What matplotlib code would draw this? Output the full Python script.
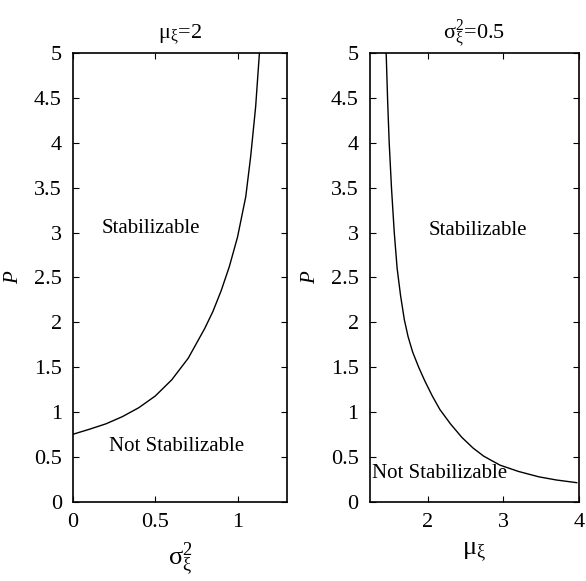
import matplotlib
matplotlib.use('Agg')
import matplotlib.pyplot as plt
import numpy as np

plt.rcParams.update({'font.family': 'Liberation Serif', 'mathtext.fontset': 'stix',
                     'font.size': 16, 'xtick.direction': 'in', 'ytick.direction': 'in',
                     'xtick.top': True, 'ytick.right': True})

# left panel: mu_xi = 2, boundary P vs sigma^2
sig2 = [0.0, 0.1, 0.2, 0.3, 0.4, 0.5, 0.6, 0.7, 0.8, 0.85, 0.9, 0.95, 1.0, 1.05,
        1.08, 1.11, 1.133]
p_left = [0.754, 0.81, 0.87, 0.95, 1.05, 1.18, 1.36, 1.60, 1.93, 2.12, 2.35, 2.62,
          2.95, 3.40, 3.85, 4.40, 5.0]

# right panel: sigma^2 = 0.5, boundary P vs mu
mu = [1.45, 1.47, 1.49, 1.52, 1.557, 1.595, 1.64, 1.69, 1.74, 1.80, 1.88, 1.96,
      2.06, 2.16, 2.3, 2.45, 2.6, 2.74, 2.956, 3.2, 3.47, 3.7, 3.97]
p_right = [5.0, 4.45, 4.0, 3.5, 3.0, 2.6, 2.30, 2.03, 1.84, 1.67, 1.5, 1.35,
           1.18, 1.03, 0.87, 0.72, 0.60, 0.51, 0.41, 0.34, 0.28, 0.245, 0.215]

yticks = np.arange(0, 5.01, 0.5)
ylabels = ['0', '0.5', '1', '1.5', '2', '2.5', '3', '3.5', '4', '4.5', '5']

fig = plt.figure(figsize=(5.86, 5.81), dpi=100)
ax1 = fig.add_axes([0.1246, 0.136, 0.365, 0.773])
ax2 = fig.add_axes([0.631, 0.136, 0.357, 0.773])

ax1.plot(sig2, p_left, color='black', lw=1.0)
ax1.set_xlim(0, 1.3)
ax1.set_xticks([0, 0.5, 1])
ax1.set_xticklabels(['0', '0.5', '1'])
ax1.set_title(r'$\mathregular{\mu_\xi}$=2', fontsize=16, pad=10)
ax1.set_xlabel(r'$\mathregular{\sigma^2_\xi}$', fontsize=19, labelpad=6)
ax1.text(0.472, 3.05, 'Stabilizable', ha='center', va='center', fontsize=15)
ax1.text(0.628, 0.616, 'Not Stabilizable', ha='center', va='center', fontsize=15)

ax2.plot(mu, p_right, color='black', lw=1.0)
ax2.set_xlim(1.233, 4)
ax2.set_xticks([2, 3, 4])
ax2.set_title(r'$\mathregular{\sigma^2_\xi}$=0.5', fontsize=16, pad=10)
ax2.set_xlabel(r'$\mathregular{\mu_\xi}$', fontsize=19, labelpad=6)
ax2.text(2.665, 3.02, 'Stabilizable', ha='center', va='center', fontsize=15)
ax2.text(2.16, 0.32, 'Not Stabilizable', ha='center', va='center', fontsize=15)

for ax in (ax1, ax2):
    ax.set_ylim(0, 5)
    ax.set_yticks(yticks)
    ax.set_yticklabels(ylabels)
    ax.set_ylabel('P', style='italic', fontsize=15, labelpad=8)
    ax.tick_params(length=4, width=0.8, pad=8)
    for s in ax.spines.values():
        s.set_linewidth(1.2)

fig.savefig('out.png', dpi=100)
